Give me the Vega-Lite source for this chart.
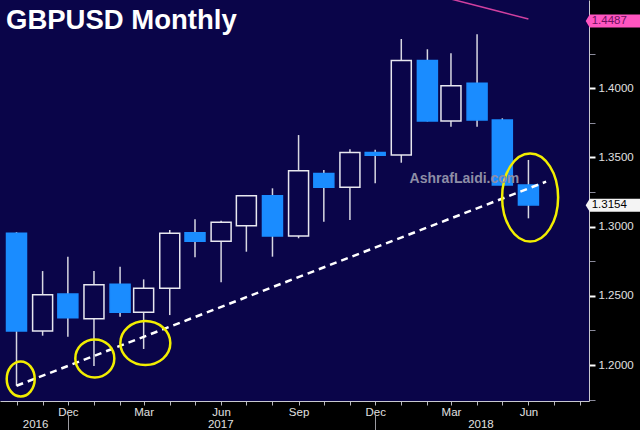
{
  "$schema": "https://vega.github.io/schema/vega-lite/v6.json",
  "width": 589,
  "height": 401,
  "autosize": {"type": "none"},
  "padding": {"left": 0, "top": 0, "right": 51, "bottom": 29},
  "background": "#000000",
  "title": {"text": "GBPUSD Monthly", "anchor": "start", "frame": "group", "orient": "top", "offset": -56, "dx": 6, "baseline": "alphabetic", "font": "Liberation Sans", "fontSize": 27.5, "fontWeight": "bold", "color": "#ffffff"},
  "datasets": {
    "candles": [
      {"date": "2016-10-01", "open": 1.2952, "high": 1.2960, "low": 1.1850, "close": 1.2246},
      {"date": "2016-11-01", "open": 1.2246, "high": 1.2679, "low": 1.2212, "close": 1.2508},
      {"date": "2016-12-01", "open": 1.2513, "high": 1.2783, "low": 1.2205, "close": 1.2342},
      {"date": "2017-01-01", "open": 1.2335, "high": 1.2679, "low": 1.1993, "close": 1.2580},
      {"date": "2017-02-01", "open": 1.2583, "high": 1.2711, "low": 1.2349, "close": 1.2381},
      {"date": "2017-03-01", "open": 1.2381, "high": 1.2619, "low": 1.2116, "close": 1.2554},
      {"date": "2017-04-01", "open": 1.2554, "high": 1.2976, "low": 1.2361, "close": 1.2952},
      {"date": "2017-05-01", "open": 1.2956, "high": 1.3053, "low": 1.2778, "close": 1.2894},
      {"date": "2017-06-01", "open": 1.2894, "high": 1.3043, "low": 1.2598, "close": 1.3031},
      {"date": "2017-07-01", "open": 1.3007, "high": 1.3229, "low": 1.2819, "close": 1.3224},
      {"date": "2017-08-01", "open": 1.3224, "high": 1.3277, "low": 1.2783, "close": 1.2932},
      {"date": "2017-09-01", "open": 1.2932, "high": 1.3662, "low": 1.2916, "close": 1.3404},
      {"date": "2017-10-01", "open": 1.3385, "high": 1.3409, "low": 1.3036, "close": 1.3284},
      {"date": "2017-11-01", "open": 1.3284, "high": 1.3559, "low": 1.3048, "close": 1.3535},
      {"date": "2017-12-01", "open": 1.3535, "high": 1.3555, "low": 1.3313, "close": 1.3516},
      {"date": "2018-01-01", "open": 1.3518, "high": 1.4356, "low": 1.3462, "close": 1.4200},
      {"date": "2018-02-01", "open": 1.4200, "high": 1.4282, "low": 1.3760, "close": 1.3764},
      {"date": "2018-03-01", "open": 1.3764, "high": 1.4253, "low": 1.3722, "close": 1.4019},
      {"date": "2018-04-01", "open": 1.4036, "high": 1.4390, "low": 1.3722, "close": 1.3771},
      {"date": "2018-05-01", "open": 1.3771, "high": 1.3783, "low": 1.3301, "close": 1.3301},
      {"date": "2018-06-01", "open": 1.3301, "high": 1.3482, "low": 1.3060, "close": 1.3157}
    ],
    "trend": [
      {"date": "2016-10-01", "price": 1.1850},
      {"date": "2018-06-22", "price": 1.3325}
    ],
    "ma": [
      {"date": "2018-02-01", "price": 1.4696},
      {"date": "2018-03-01", "price": 1.4645},
      {"date": "2018-04-01", "price": 1.4596},
      {"date": "2018-05-01", "price": 1.4550},
      {"date": "2018-06-01", "price": 1.4501}
    ],
    "ellipses": [
      {"id": "a", "date": "2016-10-06", "price": 1.1899},
      {"id": "b", "date": "2017-01-02", "price": 1.2048},
      {"id": "c", "date": "2017-03-03", "price": 1.2159},
      {"id": "d", "date": "2018-06-03", "price": 1.3211}
    ],
    "watermark": [
      {"text": "AshrafLaidi.com", "date": "2018-03-17", "price": 1.3344}
    ],
    "tags": [
      {"kind": "last", "label": "1.3154", "price": 1.3154},
      {"kind": "ma", "label": "1.4487", "price": 1.4487}
    ]
  },
  "resolve": {"axis": {"x": "independent", "y": "independent"}},
  "layer": [
    {
      "data": {"name": "candles"},
      "mark": {"type": "rule", "color": "#d8d8e2", "strokeWidth": 1.5},
      "encoding": {
        "x": {"field": "date", "type": "temporal",
          "scale": {"type": "utc", "domain": [{"year": 2016, "month": 9, "date": 17, "hours": 8, "utc": true}, {"year": 2018, "month": 8, "date": 6, "utc": true}]},
          "axis": {"orient": "bottom", "title": null, "grid": false, "tickCount": {"interval": "month", "step": 1},
            "labelExpr": "utcmonth(datum.value) % 3 == 2 ? utcFormat(datum.value, '%b') : ''",
            "tickSize": 4, "tickColor": "#b8b8c0", "domainColor": "#c8c8d0", "labelColor": "#e0e0e0",
            "labelFont": "Liberation Sans", "labelFontSize": 11.5, "labelPadding": 1, "labelOverlap": false, "labelFlush": false, "labelBound": false}},
        "y": {"field": "low", "type": "quantitative",
          "scale": {"domain": [1.174, 1.4638], "nice": false, "zero": false},
          "axis": {"orient": "right", "title": null, "grid": false,
            "values": [1.175, 1.2, 1.225, 1.25, 1.275, 1.3, 1.325, 1.35, 1.375, 1.4, 1.425],
            "labelExpr": "round(datum.value * 1000) % 50 == 0 ? format(datum.value, '.4f') : ''",
            "tickSize": 6,
            "tickColor": {"condition": {"test": "round(datum.value * 1000) % 50 == 0", "value": "#ffffff"}, "value": "#8a8a9a"},
            "tickWidth": {"condition": {"test": "round(datum.value * 1000) % 50 == 0", "value": 2}, "value": 1},
            "domainColor": "#c8c8d0", "labelColor": "#e0e0e0", "labelFont": "Liberation Sans", "labelFontSize": 11.5,
            "labelPadding": 3, "labelOverlap": false, "labelBound": false, "labelBaseline": "middle"}},
        "y2": {"field": "high"}
      }
    },
    {
      "data": {"name": "candles"},
      "mark": {"type": "bar", "width": 20, "strokeWidth": 1.5},
      "encoding": {
        "x": {"field": "date", "type": "temporal", "scale": {"type": "utc", "domain": [{"year": 2016, "month": 9, "date": 17, "hours": 8, "utc": true}, {"year": 2018, "month": 8, "date": 6, "utc": true}]}, "axis": null},
        "y": {"field": "open", "type": "quantitative", "scale": {"domain": [1.174, 1.4638], "nice": false, "zero": false}, "axis": null},
        "y2": {"field": "close"},
        "fill": {"condition": {"test": "datum.close < datum.open", "value": "#1a8cff"}, "value": "#0a0549"},
        "stroke": {"condition": {"test": "datum.close < datum.open", "value": "#1a8cff"}, "value": "#e8e8f0"}
      }
    },
    {
      "data": {"name": "trend"},
      "mark": {"type": "line", "color": "#ffffff", "strokeWidth": 2.5, "strokeDash": [7, 5]},
      "encoding": {
        "x": {"field": "date", "type": "temporal", "scale": {"type": "utc", "domain": [{"year": 2016, "month": 9, "date": 17, "hours": 8, "utc": true}, {"year": 2018, "month": 8, "date": 6, "utc": true}]},
          "axis": {"orient": "bottom", "title": null, "grid": false, "domain": false, "ticks": false, "tickSize": 0,
            "values": [{"year": 2016, "month": 10, "date": 23, "utc": true}, {"year": 2017, "month": 5, "date": 31, "utc": true}, {"year": 2018, "month": 4, "date": 5, "utc": true}],
            "labelExpr": "utcFormat(datum.value, '%Y')", "offset": 15, "labelPadding": 2.5,
            "labelColor": "#e0e0e0", "labelFont": "Liberation Sans", "labelFontSize": 11.5, "labelOverlap": false, "labelFlush": false, "labelBound": false}},
        "y": {"field": "price", "type": "quantitative", "scale": {"domain": [1.174, 1.4638], "nice": false, "zero": false}, "axis": null}
      }
    },
    {
      "data": {"name": "ma"},
      "mark": {"type": "line", "color": "#d040a0", "strokeWidth": 1.5, "clip": true},
      "encoding": {
        "x": {"field": "date", "type": "temporal", "scale": {"type": "utc", "domain": [{"year": 2016, "month": 9, "date": 17, "hours": 8, "utc": true}, {"year": 2018, "month": 8, "date": 6, "utc": true}]},
          "axis": {"orient": "bottom", "title": null, "grid": false, "domain": false, "labels": false,
            "values": [{"year": 2016, "month": 12, "date": 1, "utc": true}, {"year": 2017, "month": 12, "date": 1, "utc": true}],
            "tickSize": 17, "offset": 13.5, "tickColor": "#9a9aa0", "tickWidth": 1}},
        "y": {"field": "price", "type": "quantitative", "scale": {"domain": [1.174, 1.4638], "nice": false, "zero": false}, "axis": null}
      }
    },
    {
      "data": {"name": "ellipses"},
      "mark": {"type": "point", "filled": false, "size": 4, "strokeWidth": 2.5, "color": "#f2ee00", "opacity": 1},
      "encoding": {
        "x": {"field": "date", "type": "temporal", "scale": {"type": "utc", "domain": [{"year": 2016, "month": 9, "date": 17, "hours": 8, "utc": true}, {"year": 2018, "month": 8, "date": 6, "utc": true}]}, "axis": null},
        "y": {"field": "price", "type": "quantitative", "scale": {"domain": [1.174, 1.4638], "nice": false, "zero": false}, "axis": null},
        "shape": {"field": "id", "type": "nominal", "legend": null,
          "scale": {"domain": ["a", "b", "c", "d"], "range": [
            "M -14 0 A 14 17.5 0 1 0 14 0 A 14 17.5 0 1 0 -14 0 Z",
            "M -19.5 0 A 19.5 19 0 1 0 19.5 0 A 19.5 19 0 1 0 -19.5 0 Z",
            "M -25 0 A 25 22 0 1 0 25 0 A 25 22 0 1 0 -25 0 Z",
            "M -28 0 A 28 44 0 1 0 28 0 A 28 44 0 1 0 -28 0 Z"]}}
      }
    },
    {
      "data": {"name": "watermark"},
      "mark": {"type": "text", "font": "Liberation Sans", "fontSize": 14, "fontWeight": "bold", "color": "#8e8ea6", "align": "center", "baseline": "middle"},
      "encoding": {
        "x": {"field": "date", "type": "temporal", "scale": {"type": "utc", "domain": [{"year": 2016, "month": 9, "date": 17, "hours": 8, "utc": true}, {"year": 2018, "month": 8, "date": 6, "utc": true}]}, "axis": null},
        "y": {"field": "price", "type": "quantitative", "scale": {"domain": [1.174, 1.4638], "nice": false, "zero": false}, "axis": null},
        "text": {"field": "text"}
      }
    },
    {
      "data": {"name": "tags"},
      "mark": {"type": "point", "filled": true, "size": 4, "opacity": 1, "strokeWidth": 0, "shape": "M 0 0 L 4 -6.5 L 60 -6.5 L 60 6.5 L 4 6.5 Z", "clip": false},
      "encoding": {
        "x": {"datum": {"year": 2018, "month": 8, "date": 8, "utc": true}, "type": "temporal", "axis": null},
        "y": {"field": "price", "type": "quantitative", "scale": {"domain": [1.174, 1.4638], "nice": false, "zero": false}, "axis": null},
        "fill": {"condition": {"test": "datum.kind == 'ma'", "value": "#ff55c0"}, "value": "#f4f4f4"}
      }
    },
    {
      "data": {"name": "tags"},
      "mark": {"type": "text", "font": "Liberation Sans", "fontSize": 11.5, "align": "left", "baseline": "middle", "dx": 6},
      "encoding": {
        "x": {"datum": {"year": 2018, "month": 8, "date": 8, "utc": true}, "type": "temporal", "axis": null},
        "y": {"field": "price", "type": "quantitative", "scale": {"domain": [1.174, 1.4638], "nice": false, "zero": false}, "axis": null},
        "text": {"field": "label"},
        "color": {"condition": {"test": "datum.kind == 'ma'", "value": "#6e0f5e"}, "value": "#000000"}
      }
    }
  ],
  "config": {
    "view": {"fill": "#0a0549", "stroke": null}
  }
}
